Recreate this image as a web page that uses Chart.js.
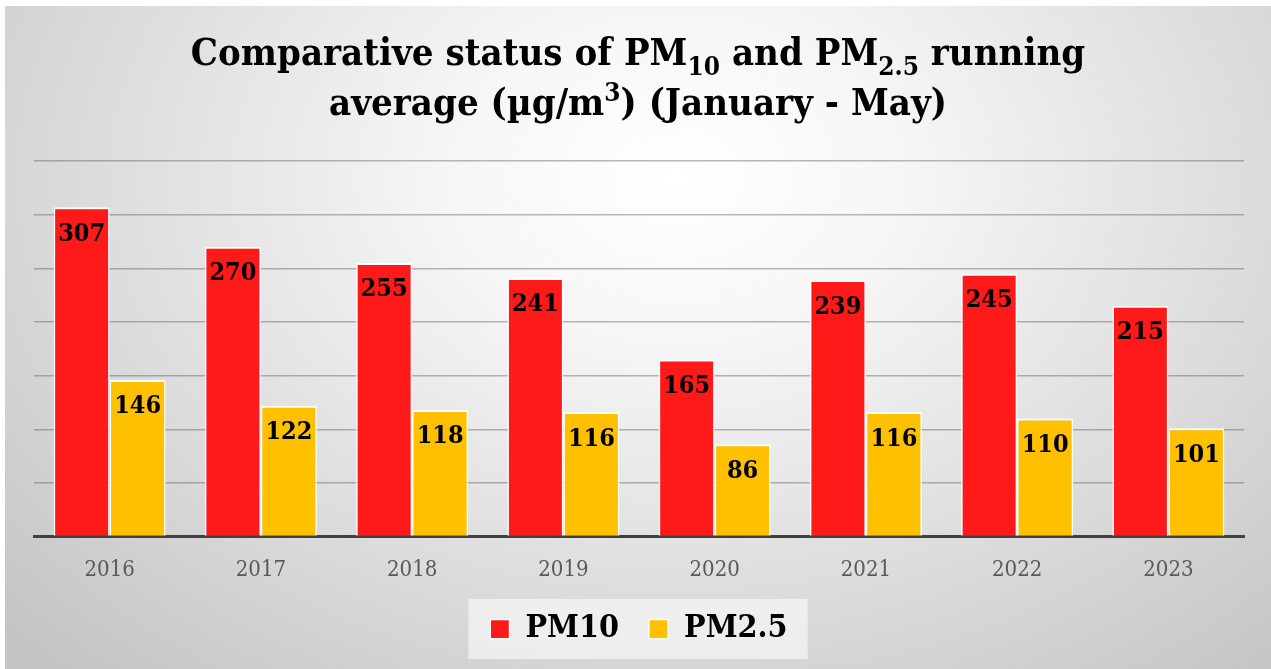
<!DOCTYPE html>
<html>
<head>
<meta charset="utf-8">
<title>PM10 and PM2.5 running average</title>
<script src="https://cdn.jsdelivr.net/npm/chart.js@4.4.1/dist/chart.umd.min.js"></script>
<style>
  html, body { margin: 0; padding: 0; background: #fff; }
  #wrap {
    position: absolute; left: 5px; top: 6px; width: 1266px; height: 663px;
    background: radial-gradient(ellipse 72% 100% at 53% 26%, #ffffff 0%, #f6f6f6 25%, #c4c4c4 100%);
  }
</style>
</head>
<body>
<div id="wrap"><canvas id="pmChart"></canvas></div>
<script>
// chart data
var years = ["2016", "2017", "2018", "2019", "2020", "2021", "2022", "2023"];
var pm10Values = [307, 270, 255, 241, 165, 239, 245, 215];
var pm25Values = [146, 122, 118, 116, 86, 116, 110, 101];

var serif = "'DejaVu Serif Condensed', 'DejaVu Serif', serif";

// title lines, with sub/superscript parts
var titleLine1 = [
  { text: "Comparative status of PM" },
  { text: "10", sub: true },
  { text: " and PM" },
  { text: "2.5", sub: true },
  { text: " running" }
];
var titleLine2 = [
  { text: "average (\u00b5g/m" },
  { text: "3", sup: true },
  { text: ") (January - May)" }
];

function drawRichLine(ctx, parts, cx, baseY) {
  var big = "bold 38px " + serif;
  var small = "bold 26px " + serif;
  var total = 0;
  parts.forEach(function (p) {
    ctx.font = (p.sub || p.sup) ? small : big;
    p.w = ctx.measureText(p.text).width;
    total += p.w;
  });
  var x = cx - total / 2;
  parts.forEach(function (p) {
    ctx.font = (p.sub || p.sup) ? small : big;
    var y = baseY;
    if (p.sub) y += 10;
    if (p.sup) y -= 14;
    ctx.fillText(p.text, x, y);
    x += p.w;
  });
}

var titlePlugin = {
  id: "richTitle",
  afterDraw: function (chart) {
    var ctx = chart.ctx;
    ctx.save();
    ctx.fillStyle = "#000";
    ctx.textAlign = "left";
    ctx.textBaseline = "alphabetic";
    var cx = chart.width / 2;
    drawRichLine(ctx, titleLine1, cx, 59);
    drawRichLine(ctx, titleLine2, cx, 109);
    ctx.restore();
  }
};

// light box behind the legend
var legendBoxPlugin = {
  id: "legendBox",
  beforeDraw: function (chart) {
    var lg = chart.legend;
    if (!lg || !lg.legendHitBoxes.length) return;
    var boxes = lg.legendHitBoxes;
    var first = boxes[0], last = boxes[boxes.length - 1];
    var ctx = chart.ctx;
    ctx.save();
    ctx.fillStyle = "rgba(252,252,252,0.6)";
    var mid = first.top + first.height / 2;
    ctx.fillRect(first.left - 22, mid - 30, (last.left + last.width) - first.left + 42, 60);
    ctx.restore();
  }
};

// value labels inside the top of each bar
var barLabelPlugin = {
  id: "barLabels",
  afterDatasetsDraw: function (chart) {
    var ctx = chart.ctx;
    ctx.save();
    ctx.font = "bold 25px " + serif;
    ctx.fillStyle = "#000";
    ctx.textAlign = "center";
    ctx.textBaseline = "middle";
    chart.data.datasets.forEach(function (ds, i) {
      chart.getDatasetMeta(i).data.forEach(function (bar, j) {
        ctx.fillText(ds.data[j], bar.x, bar.y + 27);
      });
    });
    ctx.restore();
  }
};

var ctx = document.getElementById("pmChart").getContext("2d");
var pmChart = new Chart(ctx, {
  type: "bar",
  data: {
    labels: years,
    datasets: [
      {
        label: "PM10",
        data: pm10Values,
        backgroundColor: "#ff1a1a",
        borderColor: "#ffffff",
        borderWidth: { top: 2, left: 1.5, right: 1.5, bottom: 0 },
        borderSkipped: false
      },
      {
        label: "PM2.5",
        data: pm25Values,
        backgroundColor: "#ffc000",
        borderColor: "#ffffff",
        borderWidth: { top: 2, left: 1.5, right: 1.5, bottom: 0 },
        borderSkipped: false
      }
    ]
  },
  options: {
    responsive: true,
    maintainAspectRatio: false,
    animation: false,
    categoryPercentage: 0.74,
    barPercentage: 1.0,
    layout: { padding: { top: 155, left: 29, right: 27, bottom: 14 } },
    plugins: {
      title: { display: false },
      tooltip: { enabled: false },
      legend: {
        display: true,
        position: "bottom",
        labels: {
          boxWidth: 19,
          boxHeight: 19,
          padding: 30,
          color: "#000",
          font: { family: serif, size: 32, weight: "bold" }
        }
      }
    },
    scales: {
      x: {
        grid: { display: false },
        border: { display: true, color: "#404040", width: 3 },
        ticks: { color: "#595959", padding: 12, font: { family: serif, size: 22 } },
        afterFit: function (scale) { scale.height -= 12; }
      },
      y: {
        min: 0,
        max: 350,
        ticks: { display: false, stepSize: 50 },
        border: { display: false },
        grid: { color: "rgba(80,80,80,0.4)", lineWidth: 1.5, drawTicks: false }
      }
    }
  },
  plugins: [titlePlugin, legendBoxPlugin, barLabelPlugin]
});
</script>
</body>
</html>
